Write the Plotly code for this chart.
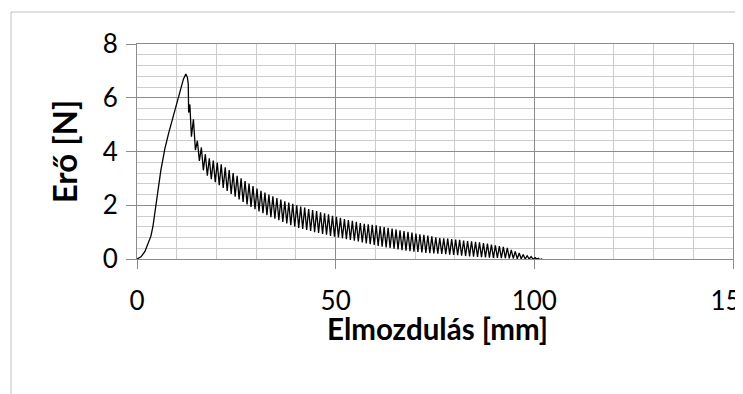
import plotly.graph_objects as go

# Rising part of the force curve
rise_x = [0, 1, 2, 2.5, 3, 3.5, 4, 4.5, 5, 5.5, 6, 6.5, 7, 8, 9, 10, 11, 11.7, 12.3, 12.7, 12.9, 13.0, 13.3]
rise_y = [0, 0.08, 0.28, 0.45, 0.62, 0.85, 1.2, 1.75, 2.25, 2.8, 3.3, 3.7, 4.1, 4.7, 5.25, 5.8, 6.35, 6.7, 6.88, 6.75, 6.5, 5.45, 5.75]

# Oscillating part: troughs and peaks
trough_x = [13.7, 14.7, 15.7, 16.7, 17.7, 18.7, 19.7, 20.7, 21.7, 22.7,
            23.7, 24.7, 25.7, 26.7, 27.7, 28.7, 29.7, 30.7, 31.7, 32.7,
            33.7, 34.7, 35.7, 36.7, 37.7, 38.7, 39.7, 40.7, 41.7, 42.7,
            43.7, 44.7, 45.7, 46.7, 47.7, 48.7, 49.7, 50.7, 51.7, 52.7,
            53.7, 54.7, 55.7, 56.7, 57.7, 58.7, 59.7, 60.7, 61.7, 62.7,
            63.7, 64.7, 65.7, 66.7, 67.7, 68.7, 69.7, 70.7, 71.7, 72.7,
            73.7, 74.7, 75.7, 76.7, 77.7, 78.7, 79.7, 80.7, 81.7, 82.7,
            83.7, 84.7, 85.7, 86.7, 87.7, 88.7, 89.7, 90.7, 91.7, 92.7,
            93.7, 94.7, 95.7, 96.7, 97.7, 98.7, 99.7]
trough_y = [4.55, 4.05, 3.65, 3.3, 3.1, 2.97, 2.86, 2.75, 2.64, 2.53,
            2.42, 2.32, 2.22, 2.12, 2.03, 1.94, 1.85, 1.77, 1.7, 1.63,
            1.56, 1.5, 1.44, 1.38, 1.32, 1.26, 1.2, 1.16, 1.12, 1.08,
            1.04, 1.0, 0.97, 0.93, 0.9, 0.86, 0.83, 0.8, 0.77, 0.74,
            0.71, 0.68, 0.65, 0.62, 0.58, 0.55, 0.52, 0.49, 0.46, 0.43,
            0.41, 0.38, 0.36, 0.33, 0.31, 0.29, 0.27, 0.26, 0.24, 0.23,
            0.22, 0.21, 0.2, 0.19, 0.18, 0.16, 0.15, 0.14, 0.12, 0.11,
            0.1, 0.09, 0.08, 0.07, 0.06, 0.05, 0.04, 0.04, 0.03, 0.03,
            0.02, 0.02, 0.01, 0.01, 0.0, 0.0, -0.01]
peak_x = [14.2, 15.2, 16.2, 17.2, 18.2, 19.2, 20.2, 21.2, 22.2, 23.2,
          24.2, 25.2, 26.2, 27.2, 28.2, 29.2, 30.2, 31.2, 32.2, 33.2,
          34.2, 35.2, 36.2, 37.2, 38.2, 39.2, 40.2, 41.2, 42.2, 43.2,
          44.2, 45.2, 46.2, 47.2, 48.2, 49.2, 50.2, 51.2, 52.2, 53.2,
          54.2, 55.2, 56.2, 57.2, 58.2, 59.2, 60.2, 61.2, 62.2, 63.2,
          64.2, 65.2, 66.2, 67.2, 68.2, 69.2, 70.2, 71.2, 72.2, 73.2,
          74.2, 75.2, 76.2, 77.2, 78.2, 79.2, 80.2, 81.2, 82.2, 83.2,
          84.2, 85.2, 86.2, 87.2, 88.2, 89.2, 90.2, 91.2, 92.2, 93.2,
          94.2, 95.2, 96.2, 97.2, 98.2, 99.2, 100.2]
peak_y = [5.2, 4.4, 4.15, 3.9, 3.75, 3.66, 3.59, 3.52, 3.41, 3.31,
          3.2, 3.1, 3.0, 2.9, 2.81, 2.71, 2.62, 2.54, 2.47, 2.4,
          2.33, 2.27, 2.21, 2.15, 2.1, 2.05, 2.0, 1.95, 1.91, 1.86,
          1.82, 1.78, 1.74, 1.7, 1.66, 1.61, 1.57, 1.53, 1.49, 1.45,
          1.42, 1.38, 1.34, 1.31, 1.29, 1.27, 1.25, 1.22, 1.19, 1.16,
          1.13, 1.1, 1.07, 1.04, 1.01, 0.98, 0.95, 0.92, 0.9, 0.87,
          0.84, 0.81, 0.78, 0.77, 0.76, 0.74, 0.72, 0.71, 0.69, 0.67,
          0.66, 0.64, 0.62, 0.59, 0.57, 0.54, 0.51, 0.48, 0.45, 0.41,
          0.34, 0.28, 0.22, 0.17, 0.12, 0.09, 0.05]

# Tail after the sample separated
tail_x = [100.6, 101.0, 101.4, 101.8, 102.3, 103.0, 104.0, 105.0, 106.0, 106.8]
tail_y = [0.0, 0.03, -0.03, 0.0, -0.05, -0.05, -0.05, -0.06, -0.05, -0.05]

x_tick_vals = [0, 50, 100, 150]
y_tick_vals = [0, 2, 4, 6, 8]
x_title = "Elmozdulás [mm]"
y_title = "Erő [N]"

xs = list(rise_x)
ys = list(rise_y)
for tx, ty, px, py in zip(trough_x, trough_y, peak_x, peak_y):
    xs += [tx, px]
    ys += [ty, py]
xs += tail_x
ys += tail_y

MAJOR = "#8c8c8c"
MINOR = "#cccccc"
FONT = "Lato"

fig = go.Figure(go.Scatter(x=xs, y=ys, mode="lines",
                           line=dict(color="black", width=1.3),
                           hoverinfo="skip"))

# page has an 8px body margin, so the figure is 8px smaller than the window
fig.update_layout(
    width=735, height=386,
    margin=dict(l=129, r=10, t=36, b=135, autoexpand=False),
    paper_bgcolor="white", plot_bgcolor="white",
    font=dict(family=FONT, color="black", size=26),
    showlegend=False,
    shapes=[dict(type="rect", xref="paper", yref="paper",
                 x0=-0.2114, x1=1.3, y0=-1.0, y1=1.1488,
                 line=dict(color="#c0c0c0", width=1), layer="below")],
    annotations=[dict(text=x_title, xref="paper", yref="paper",
                      x=0.505, y=-0.322, xanchor="center", yanchor="middle",
                      showarrow=False,
                      font=dict(size=29.5, family=FONT, weight="bold", color="black"))],
)

fig.update_xaxes(
    range=[0, 150], tickvals=x_tick_vals, ticktext=[str(v) for v in x_tick_vals],
    showgrid=True, gridcolor=MAJOR, gridwidth=1,
    minor=dict(dtick=10, tick0=0, showgrid=True, gridcolor=MINOR, gridwidth=1, ticks=""),
    ticks="outside", ticklen=9, tickcolor=MAJOR, tickwidth=1,
    showline=True, linecolor=MAJOR, linewidth=1, mirror=True,
    zeroline=False,
    tickfont=dict(size=26, family=FONT),
    ticklabelstandoff=10,
    ticklabeloverflow="allow",
    automargin=False,
)
fig.update_yaxes(
    range=[0, 8], tickvals=y_tick_vals, ticktext=[str(v) for v in y_tick_vals],
    showgrid=True, gridcolor=MAJOR, gridwidth=1,
    minor=dict(dtick=0.4, tick0=0, showgrid=True, gridcolor=MINOR, gridwidth=1, ticks=""),
    ticks="outside", ticklen=10, tickcolor=MAJOR, tickwidth=1,
    showline=True, linecolor=MAJOR, linewidth=1, mirror=True,
    zeroline=False,
    tickfont=dict(size=26, family=FONT),
    ticklabelstandoff=3,
    title=dict(text=y_title, font=dict(size=33, family=FONT, weight="bold"), standoff=15),
    automargin=False,
)

fig.write_html("out.html")
